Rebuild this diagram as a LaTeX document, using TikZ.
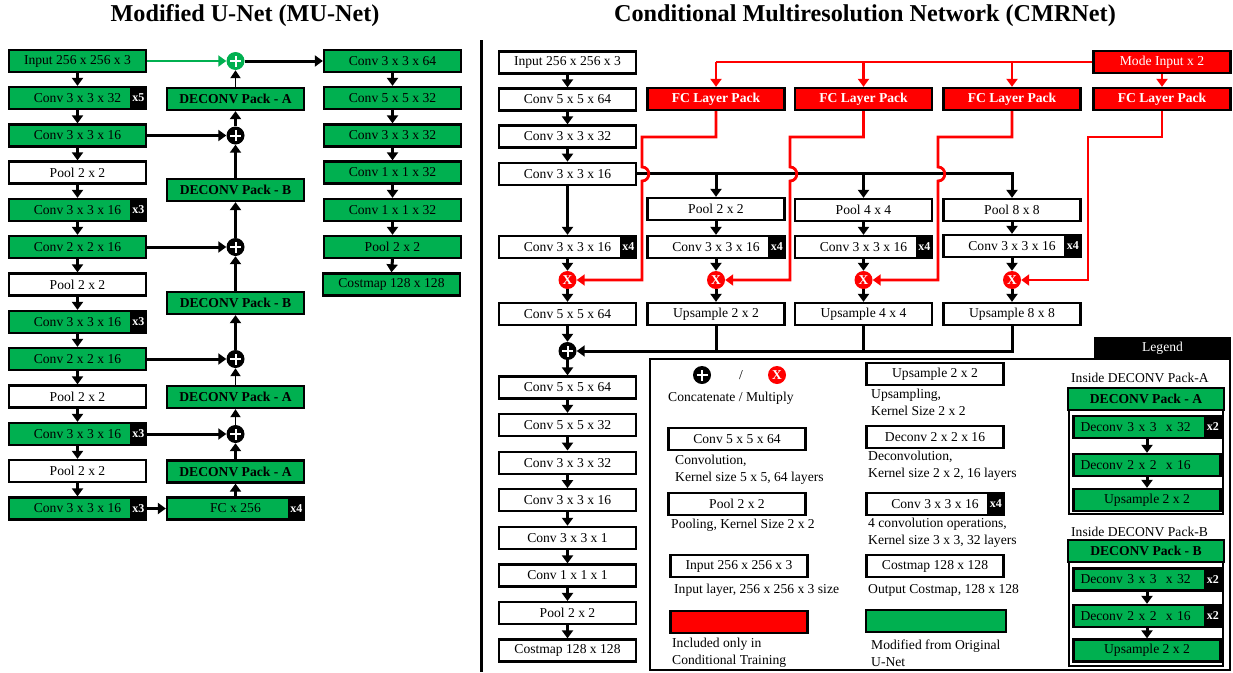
\documentclass[tikz,border=0pt]{standalone}
\usepackage{fontspec}
\setmainfont{Liberation Serif}
\usetikzlibrary{arrows.meta,calc}
\definecolor{netgreen}{RGB}{0,176,80}
\definecolor{netred}{RGB}{255,0,0}
\newcommand\txtsize{\fontsize{13.6}{17}\selectfont}
\newcommand\badgesize{\fontsize{12}{14}\selectfont\bfseries}
\newcommand\titlesize{\fontsize{24.2}{28}\selectfont\bfseries}

\tikzset{
  layer/.style={draw=black, line width=2.3pt, minimum width=137pt, minimum height=22pt,
    inner sep=0pt, font=\txtsize, fill=white},
  glayer/.style={layer, fill=netgreen},
  rlayer/.style={layer, fill=netred, text=white},
  packbox/.style={glayer, font=\txtsize\bfseries},
  fcpack/.style={rlayer, font=\txtsize\bfseries},
  leftlayer/.style={glayer, minimum width=147pt, text width=133pt, align=left, inner xsep=7pt},
  badge/.style={fill=black, text=white, font=\badgesize, minimum width=17pt,
    minimum height=22pt, inner sep=0pt, anchor=east},
  joinop/.style={circle, fill=black, minimum size=18pt, inner sep=0pt,
    path picture={\draw[white, line width=2pt]
      ([xshift=-5.5pt]path picture bounding box.center) -- ([xshift=5.5pt]path picture bounding box.center)
      ([yshift=-5.5pt]path picture bounding box.center) -- ([yshift=5.5pt]path picture bounding box.center);}},
  mulop/.style={circle, fill=netred, text=white, minimum size=18pt, inner sep=0pt,
    font=\fontsize{13.5}{13.5}\selectfont\bfseries},
  flow/.style={line width=3pt, -{Triangle[length=8pt,width=11pt]}},
  thinflow/.style={line width=1.8pt, -{Triangle[length=8pt,width=10pt]}},
  plainline/.style={line width=3pt},
  condline/.style={draw=netred, line width=2.8pt},
  condflow/.style={condline, -{Triangle[length=8pt,width=11pt]}},
  note/.style={font=\txtsize, inner sep=0pt, anchor=west, align=left},
}

\begin{document}
\begin{tikzpicture}[x=1pt, y=-1pt]
\useasboundingbox (0,0) rectangle (1233,672);
\fill[white] (0,0) rectangle (1233,672);

% ---------- titles ----------
\node[font=\titlesize] (t1) at (245,16) {Modified U-Net (MU-Net)};
\node[font=\titlesize] (t2) at (865,16) {Conditional Multiresolution Network (CMRNet)};

% divider between the two networks
\draw[line width=3pt] (481,40) -- (481,672);

% ---------- MU-Net: encoder column ----------
\node[glayer] (L1) at (77.5,61) {Input 256 x 256 x 3};
\node[glayer] (L2) at (77.5,98) {Conv 3 x 3 x 32};
\node[badge] (L2x) at (L2.east) {x5};
\node[glayer] (L3) at (77.5,135.5) {Conv 3 x 3 x 16};
\node[layer] (L4) at (77.5,172.5) {Pool 2 x 2};
\node[glayer] (L5) at (77.5,210) {Conv 3 x 3 x 16};
\node[badge] (L5x) at (L5.east) {x3};
\node[glayer] (L6) at (77.5,247) {Conv 2 x 2 x 16};
\node[layer] (L7) at (77.5,284.5) {Pool 2 x 2};
\node[glayer] (L8) at (77.5,322) {Conv 3 x 3 x 16};
\node[badge] (L8x) at (L8.east) {x3};
\node[glayer] (L9) at (77.5,359) {Conv 2 x 2 x 16};
\node[layer] (L10) at (77.5,396.5) {Pool 2 x 2};
\node[glayer] (L11) at (77.5,434) {Conv 3 x 3 x 16};
\node[badge] (L11x) at (L11.east) {x3};
\node[layer] (L12) at (77.5,471) {Pool 2 x 2};
\node[glayer] (L13) at (77.5,508.5) {Conv 3 x 3 x 16};
\node[badge] (L13x) at (L13.east) {x3};

% ---------- MU-Net: decoder column ----------
\node[joinop, fill=netgreen] (P0) at (235.5,61) {};
\node[packbox] (M1) at (235.5,99) {DECONV Pack - A};
\node[joinop] (P1) at (235.5,135.5) {};
\node[packbox] (M2) at (235.5,190) {DECONV Pack - B};
\node[joinop] (P2) at (235.5,247) {};
\node[packbox] (M3) at (235.5,303) {DECONV Pack - B};
\node[joinop] (P3) at (235.5,359) {};
\node[packbox] (M4) at (235.5,397) {DECONV Pack - A};
\node[joinop] (P4) at (235.5,434) {};
\node[packbox] (M5) at (235.5,471.5) {DECONV Pack - A};
\node[glayer] (M6) at (235.5,508.5) {FC x 256};
\node[badge] (M6x) at (M6.east) {x4};

% ---------- MU-Net: output column ----------
\node[glayer] (R1) at (392.5,61) {Conv 3 x 3 x 64};
\node[glayer] (R2) at (392.5,98) {Conv 5 x 5 x 32};
\node[glayer] (R3) at (392.5,135.5) {Conv 3 x 3 x 32};
\node[glayer] (R4) at (392.5,172.5) {Conv 1 x 1 x 32};
\node[glayer] (R5) at (392.5,210) {Conv 1 x 1 x 32};
\node[glayer] (R6) at (392.5,247) {Pool 2 x 2};
\node[glayer] (R7) at (391.5,284.5) {Costmap 128 x 128};

% MU-Net connectors
\foreach \a/\b in {L1/L2,L2/L3,L3/L4,L4/L5,L5/L6,L6/L7,L7/L8,L8/L9,L9/L10,L10/L11,L11/L12,L12/L13,
                   R1/R2,R2/R3,R3/R4,R4/R5,R5/R6,R6/R7}
  \draw[flow] (\a.south) -- (\b.north);
\draw[line width=2.4pt, draw=netgreen, -{Triangle[length=8pt,width=11pt]}] (L1.east) -- (P0.west);
\draw[flow] (P0.east) -- (R1.west);
\draw[flow] (L3.east) -- (P1.west);
\draw[flow] (L6.east) -- (P2.west);
\draw[flow] (L9.east) -- (P3.west);
\draw[flow] (L11x.east) -- (P4.west);
\draw[flow] (L13x.east) -- (M6.west);
\draw[flow] (M6.north) -- (M5.south);
\draw[flow] (M5.north) -- (P4.south);
\draw[thinflow] (P4.north) -- (M4.south);
\draw[thinflow] (M4.north) -- (P3.south);
\draw[flow] (P3.north) -- (M3.south);
\draw[flow] (M3.north) -- (P2.south);
\draw[flow] (P2.north) -- (M2.south);
\draw[flow] (M2.north) -- (P1.south);
\draw[flow] (P1.north) -- (M1.south);
\draw[thinflow] (M1.north) -- (P0.south);

% ---------- CMRNet: main column ----------
\node[layer] (C1) at (567.5,62.5) {Input 256 x 256 x 3};
\node[layer] (C2) at (567.5,99.5) {Conv 5 x 5 x 64};
\node[layer] (C3) at (567.5,136.5) {Conv 3 x 3 x 32};
\node[layer] (C4) at (567.5,173.8) {Conv 3 x 3 x 16};
\node[layer] (C5) at (567.5,247) {Conv 3 x 3 x 16};
\node[badge] (C5x) at (C5.east) {x4};
\node[mulop] (X1) at (567.5,280) {X};
\node[layer] (C6) at (567.5,314) {Conv 5 x 5 x 64};
\node[joinop] (Q) at (567.5,351) {};
\node[layer] (C7) at (567.5,387.5) {Conv 5 x 5 x 64};
\node[layer] (C8) at (567.5,425) {Conv 5 x 5 x 32};
\node[layer] (C9) at (567.5,462.7) {Conv 3 x 3 x 32};
\node[layer] (C10) at (567.5,500.3) {Conv 3 x 3 x 16};
\node[layer] (C11) at (567.5,537.9) {Conv 3 x 3 x 1};
\node[layer] (C12) at (567.5,575.5) {Conv 1 x 1 x 1};
\node[layer] (C13) at (567.5,613.1) {Pool 2 x 2};
\node[layer] (C14) at (567.5,650.5) {Costmap 128 x 128};

% ---------- CMRNet: conditional inputs ----------
\node[rlayer] (MI) at (1162,62) {Mode Input x 2};
\node[fcpack] (F2) at (716,99) {FC Layer Pack};
\node[fcpack] (F3) at (863.5,99) {FC Layer Pack};
\node[fcpack] (F4) at (1012,99) {FC Layer Pack};
\node[fcpack] (F5) at (1162,99) {FC Layer Pack};

% ---------- CMRNet: multiresolution branches ----------
\node[layer] (B2p) at (716,209) {Pool 2 x 2};
\node[layer] (B3p) at (863.5,210) {Pool 4 x 4};
\node[layer] (B4p) at (1012,210) {Pool 8 x 8};
\node[layer] (B2c) at (716,247) {Conv 3 x 3 x 16};
\node[badge] (B2cx) at (B2c.east) {x4};
\node[layer] (B3c) at (863.5,247) {Conv 3 x 3 x 16};
\node[badge] (B3cx) at (B3c.east) {x4};
\node[layer] (B4c) at (1012,246) {Conv 3 x 3 x 16};
\node[badge] (B4cx) at (B4c.east) {x4};
\node[mulop] (X2) at (716,280) {X};
\node[mulop] (X3) at (863.5,280) {X};
\node[mulop] (X4) at (1012,280) {X};
\node[layer] (U2) at (716,314) {Upsample 2 x 2};
\node[layer] (U3) at (863.5,314) {Upsample 4 x 4};
\node[layer] (U4) at (1012,314) {Upsample 8 x 8};

% CMRNet connectors
\foreach \a/\b in {C1/C2,C2/C3,C3/C4,C4/C5,C5/X1,X1/C6,C6/Q,Q/C7,C7/C8,C8/C9,C9/C10,C10/C11,C11/C12,C12/C13,C13/C14,
                   B2p/B2c,B2c/X2,X2/U2,B3p/B3c,B3c/X3,X3/U3,B4p/B4c,B4c/X4,X4/U4}
  \draw[flow] (\a.south) -- (\b.north);
\draw[flow] (C4.east) -| (B4p.north);
\draw[flow] (C4.east -| B2p.north) -- (B2p.north);
\draw[flow] (C4.east -| B3p.north) -- (B3p.north);
\draw[plainline] (U2.south) -- (U2.south |- Q.east);
\draw[plainline] (U3.south) -- (U3.south |- Q.east);
\draw[flow] (U4.south) |- (Q.east);

% conditional (red) connectors, hopping over the shared feature line
\draw[condline] (MI.west) -- (MI.west -| F2.north);
\draw[condflow] (MI.west -| F2.north) -- (F2.north);
\draw[condflow] (MI.west -| F3.north) -- (F3.north);
\draw[condflow] (MI.west -| F4.north) -- (F4.north);
\draw[condflow] (MI.south) -- (F5.north);
\draw[condflow] (F2.south) |- (642,137) -- (642,167)
  .. controls (651,167) and (651,181) .. (642,181) -- (642,280) -- (X1.east);
\draw[condflow] (F3.south) |- (790,137) -- (790,167)
  .. controls (799,167) and (799,181) .. (790,181) -- (790,280) -- (X2.east);
\draw[condflow] (F4.south) |- (938,137) -- (938,167)
  .. controls (947,167) and (947,181) .. (938,181) -- (938,280) -- (X3.east);
\draw[condflow] (F5.south) |- (1088,137) -- (1088,280) -- (X4.east);

% ---------- legend ----------
\draw[line width=2pt] (650,359) rectangle (1230,670);
\node[fill=black, text=white, font=\txtsize, minimum width=137pt, minimum height=22pt, inner sep=0pt]
  (LgT) at (1162.5,348) {Legend};

\node[joinop] (LgP) at (702,375) {};
\node[font=\txtsize] (LgS) at (741,375) {/};
\node[mulop] (LgX) at (777,375) {X};
\node[note] (LgPt) at (668,398) {Concatenate / Multiply};

\node[layer] (LgC) at (737,439) {Conv 5 x 5 x 64};
\node[note] (LgCt) at (675,470) {Convolution,\\Kernel size 5 x 5, 64 layers};
\node[layer] (LgPo) at (737,504) {Pool 2 x 2};
\node[note] (LgPot) at (671,525) {Pooling, Kernel Size 2 x 2};
\node[layer] (LgI) at (739,566) {Input 256 x 256 x 3};
\node[note] (LgIt) at (674,590) {Input layer, 256 x 256 x 3 size};
\node[rlayer] (LgR) at (739,622) {};
\node[note] (LgRt) at (672,653) {Included only in\\Conditional Training};

\node[layer] (LgU) at (935,374) {Upsample 2 x 2};
\node[note] (LgUt) at (871,402) {Upsampling,\\Kernel Size 2 x 2};
\node[layer] (LgD) at (935,437) {Deconv 2 x 2 x 16};
\node[note] (LgDt) at (868,466) {Deconvolution,\\Kernel size 2 x 2, 16 layers};
\node[layer] (LgK) at (935,504) {Conv 3 x 3 x 16};
\node[badge] (LgKx) at (LgK.east) {x4};
\node[note] (LgKt) at (868,533) {4 convolution operations,\\Kernel size 3 x 3, 32 layers};
\node[layer] (LgO) at (935,566) {Costmap 128 x 128};
\node[note] (LgOt) at (868,590) {Output Costmap, 128 x 128};
\node[glayer, minimum width=140pt] (LgG) at (936,621) {};
\node[note] (LgGt) at (871,653) {Modified from Original\\U-Net};

% inside the deconvolution packs
\node[note] (IAt) at (1071,378) {Inside DECONV Pack-A};
\node[packbox, minimum width=156pt] (DA) at (1146,399) {DECONV Pack - A};
\draw[line width=2pt] (1069,410) rectangle (1223,514);
\node[leftlayer] (IA1) at (1147,427) {Deconv 3 x 3~ x 32};
\node[badge] (IA1x) at (IA1.east) {x2};
\node[leftlayer] (IA2) at (1147,465) {Deconv 2 x 2~ x 16};
\node[glayer, minimum width=147pt] (IA3) at (1147,500) {Upsample 2 x 2};
\draw[flow] (IA1.south) -- (IA2.north);
\draw[flow] (IA2.south) -- (IA3.north);

\node[note] (IBt) at (1071,532) {Inside DECONV Pack-B};
\node[packbox, minimum width=156pt] (DB) at (1146,551) {DECONV Pack - B};
\draw[line width=2pt] (1069,562) rectangle (1223,666);
\node[leftlayer] (IB1) at (1147,579.5) {Deconv 3 x 3~ x 32};
\node[badge] (IB1x) at (IB1.east) {x2};
\node[leftlayer] (IB2) at (1147,616) {Deconv 2 x 2~ x 16};
\node[badge] (IB2x) at (IB2.east) {x2};
\node[glayer, minimum width=147pt] (IB3) at (1147,650.5) {Upsample 2 x 2};
\draw[flow] (IB1.south) -- (IB2.north);
\draw[flow] (IB2.south) -- (IB3.north);
\end{tikzpicture}
\end{document}
